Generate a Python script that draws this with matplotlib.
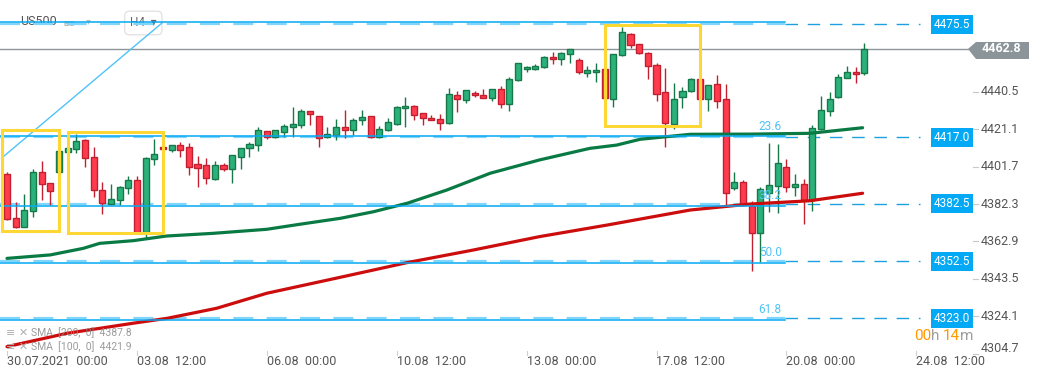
import numpy as np
import matplotlib
matplotlib.use("Agg")
import matplotlib.pyplot as plt
from matplotlib.patches import Rectangle, Polygon

plt.rcParams['font.family'] = ['Roboto', 'DejaVu Sans']

# US500 H4 candles (30.07.2021 -> 20.08.2021)
opens = [4397.7, 4374.9, 4370.5, 4378.5, 4398.8, 4393.1, 4398.8, 4409.2, 4410.7, 4415.4,
         4406.6, 4389.4, 4382.2, 4384.2, 4390.5, 4394.6, 4367.8, 4405.5, 4411.8, 4410.5,
         4412.8, 4411.8, 4402.9, 4402.4, 4395.1, 4402.4, 4400.3, 4406.6, 4411.2, 4412.8,
         4420.1, 4416.9, 4419.9, 4422.1, 4423.2, 4430.4, 4427.8, 4416.9, 4418.0, 4422.1,
         4420.6, 4425.8, 4427.8, 4416.9, 4420.6, 4423.7, 4432.0, 4433.0, 4429.4, 4426.8,
         4426.3, 4424.2, 4438.7, 4436.1, 4439.8, 4438.7, 4437.2, 4441.9, 4434.1, 4446.5,
         4452.2, 4452.2, 4453.3, 4458.5, 4457.4, 4460.0, 4456.9, 4450.2, 4450.7, 4452.2,
         4436.7, 4459.5, 4470.4, 4465.2, 4460.5, 4454.3, 4440.3, 4423.7, 4437.7, 4440.8,
         4447.0, 4436.7, 4444.5, 4436.7, 4390.5, 4393.6, 4381.1, 4367.1, 4387.9, 4391.5,
         4401.4, 4391.0, 4392.6, 4384.2, 4421.1, 4430.4, 4437.7, 4447.6, 4450.7, 4450.2]
closes = [4374.4, 4370.5, 4379.1, 4398.8, 4392.6, 4389.1, 4409.7, 4411.2, 4415.2, 4406.0,
          4389.4, 4382.7, 4384.8, 4391.0, 4394.6, 4367.8, 4406.2, 4408.1, 4410.7, 4412.8,
          4410.5, 4401.7, 4401.2, 4396.0, 4402.4, 4400.3, 4407.6, 4411.2, 4413.3, 4420.6,
          4416.9, 4420.6, 4422.7, 4423.7, 4430.4, 4428.9, 4416.4, 4418.5, 4422.1, 4420.6,
          4425.8, 4427.3, 4416.9, 4421.1, 4424.7, 4432.5, 4433.0, 4428.4, 4426.8, 4425.8,
          4424.2, 4439.3, 4436.7, 4441.3, 4438.7, 4437.2, 4441.9, 4434.1, 4447.0, 4455.3,
          4453.3, 4453.8, 4458.5, 4457.4, 4460.5, 4462.6, 4450.7, 4451.7, 4451.7, 4437.2,
          4460.0, 4471.4, 4464.7, 4460.5, 4453.8, 4439.3, 4424.2, 4436.7, 4440.8, 4447.0,
          4436.7, 4443.9, 4435.6, 4387.9, 4393.6, 4381.6, 4367.1, 4390.0, 4392.0, 4403.5,
          4391.0, 4392.6, 4384.2, 4421.6, 4431.0, 4436.7, 4448.1, 4450.7, 4449.6, 4462.8]
highs = [4399.1, 4383.2, 4387.5, 4400.5, 4404.6, 4393.2, 4410.1, 4411.6, 4418.7, 4415.8,
         4411.8, 4393.7, 4392.7, 4391.7, 4396.9, 4396.9, 4406.6, 4416.1, 4411.9, 4413.0,
         4414.5, 4413.8, 4407.2, 4406.2, 4404.8, 4403.5, 4407.8, 4411.4, 4414.4, 4422.3,
         4420.2, 4420.7, 4423.7, 4432.5, 4431.5, 4430.6, 4428.0, 4422.1, 4426.3, 4431.0,
         4426.8, 4431.0, 4428.0, 4422.7, 4426.8, 4433.0, 4437.7, 4433.6, 4429.6, 4428.4,
         4428.9, 4442.4, 4440.8, 4441.5, 4440.8, 4441.9, 4442.0, 4443.4, 4448.1, 4455.5,
         4453.8, 4454.8, 4459.0, 4461.1, 4461.1, 4462.8, 4457.9, 4453.8, 4455.3, 4452.4,
         4460.2, 4474.3, 4470.9, 4465.4, 4461.1, 4455.3, 4452.8, 4445.0, 4442.9, 4447.6,
         4447.2, 4444.1, 4449.1, 4444.5, 4398.8, 4394.6, 4383.7, 4391.0, 4413.8, 4413.3,
         4405.5, 4397.7, 4395.1, 4423.2, 4438.2, 4440.3, 4449.6, 4453.8, 4453.3, 4465.7]
lows = [4374.0, 4370.1, 4370.3, 4375.7, 4384.4, 4382.0, 4398.4, 4408.8, 4408.6, 4401.7,
        4385.8, 4377.0, 4381.8, 4381.8, 4387.4, 4367.5, 4364.8, 4402.7, 4410.5, 4409.3,
        4406.9, 4397.5, 4391.3, 4392.9, 4394.8, 4399.5, 4393.4, 4400.6, 4406.9, 4410.0,
        4415.9, 4416.6, 4416.9, 4416.9, 4421.6, 4423.2, 4412.1, 4416.6, 4415.4, 4416.4,
        4418.0, 4423.2, 4416.8, 4416.4, 4420.1, 4423.2, 4422.1, 4425.8, 4423.2, 4425.7,
        4420.6, 4423.7, 4429.9, 4434.6, 4437.7, 4437.1, 4435.6, 4432.0, 4430.4, 4446.0,
        4450.7, 4451.7, 4452.8, 4454.8, 4454.3, 4455.3, 4449.6, 4448.1, 4445.5, 4437.1,
        4432.5, 4459.0, 4463.1, 4460.4, 4447.0, 4435.6, 4411.8, 4421.1, 4432.0, 4440.3,
        4436.6, 4430.4, 4432.0, 4381.6, 4389.4, 4381.5, 4347.4, 4352.1, 4378.0, 4377.5,
        4388.4, 4386.3, 4371.8, 4378.5, 4420.6, 4427.8, 4437.2, 4447.5, 4445.0, 4449.1]

# moving averages read at a few candle positions
sma100_idx = [0, 5, 8.8, 10.7, 14.6, 18.4, 23.8, 30, 33.8, 38.5, 42.3, 46.2, 50.8,
              55.8, 61.5, 67.3, 70.4, 73.1, 78.9, 85.8, 92.7, 98.8]
sma100 = [4354.1, 4355.9, 4359.3, 4361.9, 4363.3, 4365.7, 4367.1, 4369.2, 4371.8,
          4374.9, 4378.3, 4382.7, 4389.6, 4398.3, 4405.2, 4411.2, 4412.9, 4415.9,
          4418.5, 4418.6, 4419.0, 4421.9]
sma200_idx = [0, 6.9, 14.5, 18.5, 24.2, 30, 38.5, 46.2, 53.8, 61.5, 69.3, 78.9, 85.8, 92.7, 98.8]
sma200 = [4308.3, 4315.2, 4320.4, 4323.0, 4328.2, 4336.0, 4344.3, 4351.9, 4358.4,
          4365.4, 4371.4, 4379.2, 4382.3, 4384.0, 4387.9]

# horizontal levels and fibo levels
levels = [4475.5, 4417.0, 4382.5, 4352.5, 4323.0]
fib_prices = [4476.6, 4417.4, 4381.4, 4351.9, 4322.1]
fib_labels = ['', '23.6', '38.2', '50.0', '61.8']
last_price = 4462.8

axis_ticks = [4440.5, 4421.1, 4401.7, 4382.3, 4362.9, 4343.5, 4324.1, 4304.7]
date_pos = [0, 15, 30, 45, 60, 75, 90, 105]
date_labels = ['30.07.2021  00:00', '03.08  12:00', '06.08  00:00', '10.08  12:00',
               '13.08  00:00', '17.08  12:00', '20.08  00:00', '24.08  12:00']

# yellow boxes (index from, index to, price low, price high)
boxes = [(-0.6, 6.0, 4368.3, 4420.6), (7.1, 18.05, 4367.1, 4419.5), (69.0, 80.06, 4422.7, 4475.1)]


# pixel -> data helpers for the layout
def px_x(p):
    return (p - 7) / 8.66


def px_y(p):
    return 4488.2 - 0.519 * p


fig = plt.figure(figsize=(10.41, 3.79), dpi=100)
ax = fig.add_axes([0, 0, 1, 1])
ax.set_xlim(px_x(0), px_x(1041))
ax.set_ylim(px_y(379), px_y(0))
ax.axis('off')

o = np.array(opens)
c = np.array(closes)
h = np.array(highs)
l = np.array(lows)
idx = np.arange(len(o))
up = c >= o

# dashed levels
x_split = px_x(785)
for lv in levels:
    ax.plot([px_x(0), x_split], [lv, lv], color='#81d4fa', lw=1.6, ls=(0, (9, 6)), zorder=1)
    ax.plot([x_split, px_x(920)], [lv, lv], color='#1e9fe0', lw=1.0, ls=(0, (9, 7)), zorder=1)

# last price line
ax.plot([px_x(0), px_x(968)], [last_price, last_price], color='#8a9499', lw=1.0, zorder=1)

# diagonal trend line
ax.plot([px_x(1.7), px_x(162)], [px_y(158), px_y(23)], color='#4fc3f7', lw=1.0, zorder=2)

# candles
green_face, green_edge = '#2bb27b', '#17784a'
red_face, red_edge = '#ff3b4e', '#c21f30'
ax.vlines(idx[up], l[up], h[up], color=green_edge, lw=1.0, zorder=3)
ax.vlines(idx[~up], l[~up], h[~up], color=red_edge, lw=1.0, zorder=3)
body_h = np.maximum(np.abs(c - o), 0.6)
ax.bar(idx[up], body_h[up], bottom=np.minimum(o, c)[up], width=0.7,
       color=green_face, edgecolor=green_edge, linewidth=1.0, zorder=4)
ax.bar(idx[~up], body_h[~up], bottom=np.minimum(o, c)[~up], width=0.7,
       color=red_face, edgecolor=red_edge, linewidth=1.0, zorder=4)

# SMAs
ax.plot(sma100_idx, sma100, color='#0a7a45', lw=2.3, zorder=5, solid_capstyle='round')
ax.plot(sma200_idx, sma200, color='#cc0d0d', lw=2.3, zorder=5, solid_capstyle='round')

# fibo lines
fib_end = px_x(785)
for fp, fl in zip(fib_prices, fib_labels):
    ax.plot([px_x(0), fib_end], [fp, fp], color='#03a9f4', lw=1.1, zorder=6)
    if fl:
        ax.text(px_x(770), fp + 2.0, fl, color='#4fc3f7', fontsize=8.5, ha='center',
                va='bottom', zorder=7)

# yellow boxes
for x0, x1, y0, y1 in boxes:
    ax.add_patch(Rectangle((x0, y0), x1 - x0, y1 - y0, fill=False, edgecolor='#fdd835',
                           lw=2.2, zorder=6))

# right price axis
for t in axis_ticks:
    ax.plot([px_x(973), px_x(978)], [t, t], color='#c8c8c8', lw=0.8)
    ax.text(px_x(981), max(t, px_y(348)), f'{t:.1f}', color='#555555', fontsize=9,
            va='center', ha='left')

for lv in levels:
    ax.text(px_x(952), lv, f'{lv:.1f}', color='white', fontsize=8.5, ha='center', va='center',
            zorder=8, bbox=dict(boxstyle='square,pad=0.25', fc='#03a9f4', ec='none'))

# last price tag
tag = [(px_x(968), last_price), (px_x(976), px_y(42)), (px_x(1029), px_y(42)),
       (px_x(1029), px_y(59)), (px_x(976), px_y(59))]
ax.add_patch(Polygon(tag, closed=True, fc='#8a9499', ec='none', zorder=8))
ax.text(px_x(1001), last_price, f'{last_price:.1f}', color='white', fontsize=9,
        fontweight='bold', ha='center', va='center', zorder=9)

# date axis
for p, lab in zip(date_pos, date_labels):
    ax.plot([p, p], [px_y(351), px_y(355)], color='#d0d0d0', lw=0.8)
    ax.text(p, px_y(362), lab, color='#555555', fontsize=9, ha='left', va='center')

# top-left header
ax.text(px_x(20), px_y(22), 'US500', color='#555555', fontsize=9, va='center', zorder=0)
ax.text(px_x(64), px_y(23), 'BID', color='#b0b0b0', fontsize=5.5, fontweight='bold',
        va='center', zorder=0)
ax.text(px_x(86), px_y(21), '▾', color='#c0c0c0', fontsize=7, va='center', zorder=0,
        family=['DejaVu Sans'])
ax.text(px_x(130), px_y(23), 'H4  ▾', color='#666666', fontsize=8.5, va='center', zorder=0,
        family=['Roboto', 'DejaVu Sans'],
        bbox=dict(boxstyle='round,pad=0.45,rounding_size=0.4', fc='white', ec='#dddddd', lw=0.8))

# SMA legend
ax.text(px_x(6), px_y(333), '≡ ✕', color='#b0b0b0', fontsize=8, va='center', zorder=9,
        family=['DejaVu Sans'])
ax.text(px_x(31), px_y(333), 'SMA  [200,  0]  4387.8', color='#8a8a8a', fontsize=7.5,
        va='center', zorder=9, alpha=0.85)
ax.text(px_x(6), px_y(347), '≡ ✕', color='#b0b0b0', fontsize=8, va='center', zorder=9,
        family=['DejaVu Sans'])
ax.text(px_x(31), px_y(347), 'SMA  [100,  0]  4421.9', color='#8a8a8a', fontsize=7.5,
        va='center', zorder=9, alpha=0.85)

# countdown
t1 = ax.text(px_x(914), px_y(336), '00', color='#ff9800', fontsize=11, va='center', ha='left')
ax.annotate('h ', xycoords=t1, xy=(1, 0), va='bottom', color='#9e9e9e', fontsize=11)
t2 = ax.text(px_x(943), px_y(336), '14', color='#ff9800', fontsize=11, va='center', ha='left')
ax.annotate('m', xycoords=t2, xy=(1, 0), va='bottom', color='#9e9e9e', fontsize=11)

fig.savefig('out.png', dpi=100, facecolor='white')
